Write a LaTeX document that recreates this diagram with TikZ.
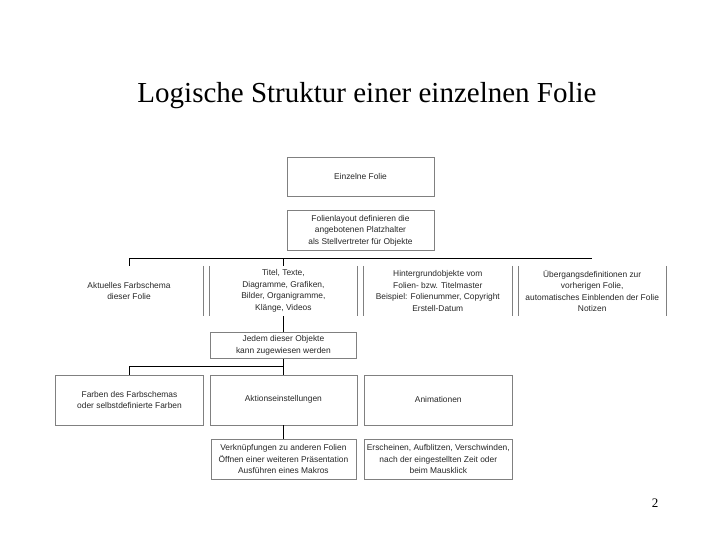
\documentclass[tikz,border=0pt]{standalone}
\usepackage{fontspec}
\setmainfont{Liberation Serif}
\setsansfont{Liberation Sans}
\usetikzlibrary{positioning}

\begin{document}
\begin{tikzpicture}[
  x=1pt,y=-1pt,
  font=\sffamily\fontsize{8.4}{11.5}\selectfont,
  node distance=16pt and 6pt,
  box/.style={draw=black!50,align=center,minimum width=148pt,
              minimum height=50pt,inner sep=1pt,text=black!85},
  openbox/.style={box,draw=none},
  side/.style={draw=black!50},
  link/.style={draw=black,line width=0.8pt}
]
\useasboundingbox (0,0) rectangle (720,540);
\node[font=\fontsize{29}{33}\selectfont] (title) at (367,96)
 {Logische Struktur einer einzelnen Folie};

\node[box,minimum width=147pt,minimum height=39pt] (folie) at (360.5,176.5)
 {Einzelne Folie};
\node[box,minimum width=147pt,minimum height=40pt,below=14pt of folie] (layout)
 {Folienlayout definieren die\\angebotenen Platzhalter\\als Stellvertreter f\"ur Objekte};

% Zeile der Platzhalter
\node[openbox] (farb) at (129,291) {Aktuelles Farbschema\\dieser Folie};
\node[openbox,right=of farb] (obj)
 {Titel, Texte,\\Diagramme, Grafiken,\\Bilder, Organigramme,\\Kl\"ange, Videos};
\node[openbox,right=of obj] (hint)
 {Hintergrundobjekte vom\\Folien- bzw. Titelmaster\\Beispiel: Folienummer, Copyright\\Erstell-Datum};
\node[openbox,right=of hint] (ueber)
 {\"Ubergangsdefinitionen zur\\vorherigen Folie,\\automatisches Einblenden der Folie\\Notizen};
\foreach \b in {obj,hint,ueber}
  \draw[side] (\b.north west) -- (\b.south west);
\foreach \b in {farb,obj,hint,ueber}
  \draw[side] (\b.north east) -- (\b.south east);

\node[box,minimum width=146pt,minimum height=26pt,below=16pt of obj] (jedem)
 {Jedem dieser Objekte\\kann zugewiesen werden};

\node[box,minimum width=147pt,below=16pt of jedem] (aktion)
 {Aktionseinstellungen};
\node[box,left=6pt of aktion] (farben)
 {Farben des Farbschemas\\oder selbstdefinierte Farben};
\node[box,right=7pt of aktion] (anim) {Animationen};

\node[box,minimum width=145pt,minimum height=40pt,below=14pt of aktion] (verkn)
 {Verkn\"upfungen zu anderen Folien\\\"Offnen einer weiteren Pr\"asentation\\Ausf\"uhren eines Makros};
\node[box,minimum height=40pt,below=14pt of anim] (ersch)
 {Erscheinen, Aufblitzen, Verschwinden,\\nach der eingestellten Zeit oder\\beim Mausklick};

% Verbindungen
\coordinate (bus) at (0,258);
\draw[link] (farb.north) |- (ueber.north |- bus);
\draw[link] (obj.north) -- (obj.north |- bus);
\draw[link] (obj.south) -- (jedem.north);
\draw[link] (jedem.south) -- (aktion.north);
\draw[link] (farben.north) -- ++(0,-8) -| (aktion.north);
\draw[link] (aktion.south) -- (verkn.north);

\node[font=\rmfamily\fontsize{13}{15}\selectfont] (seite) at (655,503) {2};
\end{tikzpicture}
\end{document}
